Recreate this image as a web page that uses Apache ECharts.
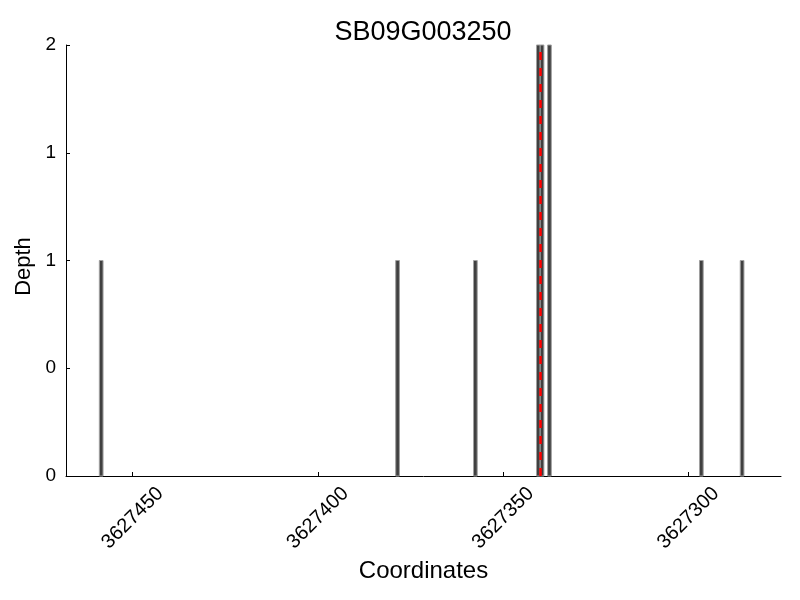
<!DOCTYPE html>
<html>
<head>
<meta charset="utf-8">
<title>SB09G003250</title>
<script src="https://cdn.jsdelivr.net/npm/echarts@6/dist/echarts.min.js"></script>
<style>
  html, body { margin: 0; padding: 0; background: #fff; }
  #chart { width: 800px; height: 600px; }
</style>
</head>
<body>
<div id="chart"></div>
<script>
// 数据：每个位置的测序深度
const positions = [3627458, 3627378, 3627357, 3627340, 3627339, 3627337, 3627296, 3627285];
const depths = [1, 1, 1, 2, 2, 2, 1, 1];
const snpPosition = 3627340;
const xTicks = [3627300, 3627350, 3627400, 3627450];
const barWidth = 1;

const font = '"Liberation Sans", Arial, Helvetica, sans-serif';
const data = positions.map((p, i) => [p, depths[i]]);

const option = {
  animation: false,
  title: {
    text: 'SB09G003250',
    left: 418,
    textAlign: 'center',
    top: 14,
    textStyle: { fontFamily: font, fontSize: 27, fontWeight: 'normal', color: '#000' }
  },
  grid: { left: 66, right: 19, top: 45, bottom: 124 },
  xAxis: {
    type: 'value',
    inverse: true,
    min: 3627275,
    max: 3627468,
    name: 'Coordinates',
    nameLocation: 'middle',
    nameGap: 79,
    nameTextStyle: { fontFamily: font, fontSize: 24, color: '#000' },
    axisLine: { show: true, lineStyle: { color: '#000', width: 1 } },
    axisTick: { show: true, inside: true, length: 4, customValues: xTicks, lineStyle: { color: '#000' } },
    axisLabel: {
      customValues: xTicks,
      rotate: 45,
      align: 'center',
      verticalAlign: 'middle',
      margin: 42,
      fontFamily: font,
      fontSize: 20,
      color: '#000',
      formatter: v => String(v)
    },
    splitLine: { show: false }
  },
  yAxis: {
    type: 'value',
    min: 0,
    max: 2,
    interval: 0.5,
    name: 'Depth',
    nameLocation: 'middle',
    nameGap: 30,
    nameTextStyle: { fontFamily: font, fontSize: 22, color: '#000', padding: [0, 12, 0, 0] },
    axisLine: { show: true, lineStyle: { color: '#000', width: 1 } },
    axisTick: { show: true, inside: true, length: 4, lineStyle: { color: '#000' } },
    axisLabel: {
      margin: 10,
      fontFamily: font,
      fontSize: 19,
      color: '#000',
      formatter: v => String(Math.floor(v))
    },
    splitLine: { show: false }
  },
  series: [
    {
      type: 'custom',
      data: data,
      renderItem: (params, api) => {
        const x = api.value(0);
        const d = api.value(1);
        const p0 = api.coord([x, 0]);
        const p1 = api.coord([x + barWidth, d]);
        return {
          type: 'rect',
          shape: {
            x: Math.min(p0[0], p1[0]),
            y: p1[1],
            width: Math.abs(p1[0] - p0[0]),
            height: p0[1] - p1[1]
          },
          style: { fill: '#404040', stroke: '#a0a0a0', lineWidth: 1 }
        };
      },
      markLine: {
        silent: true,
        symbol: 'none',
        label: { show: false },
        lineStyle: { color: '#ff0000', type: [8, 8], width: 2.5 },
        data: [{ xAxis: snpPosition }]
      },
      z: 2
    }
  ]
};

const myChart = echarts.init(document.getElementById('chart'));
myChart.setOption(option);
</script>
</body>
</html>
